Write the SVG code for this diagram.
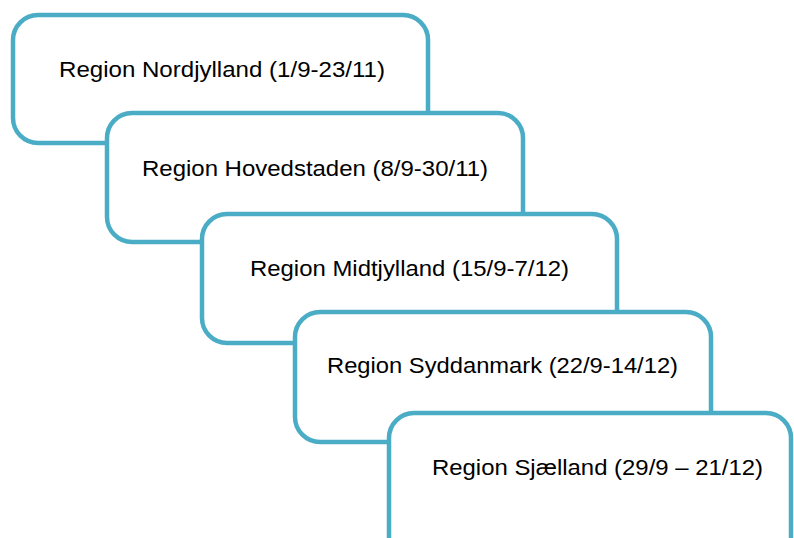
<svg xmlns="http://www.w3.org/2000/svg" width="794" height="538" viewBox="0 0 794 538">
<style>
.box{fill:#fff;stroke:#4BACC6;stroke-width:4.5}
.lbl{font-family:"Liberation Sans",Arial,sans-serif;font-size:22px;fill:#000}
</style>
<rect width="794" height="538" fill="#fff"/>
<g id="connectors"></g>
<g id="n1"><rect class="box" x="13" y="15" width="415" height="128" rx="25"/><text class="lbl" x="59" y="77" textLength="326" lengthAdjust="spacingAndGlyphs">Region Nordjylland (1/9-23/11)</text></g>
<g id="n2"><rect class="box" x="107" y="113" width="416" height="129" rx="25"/><text class="lbl" x="142" y="176" textLength="346" lengthAdjust="spacingAndGlyphs">Region Hovedstaden (8/9-30/11)</text></g>
<g id="n3"><rect class="box" x="202" y="214" width="415" height="129" rx="25"/><text class="lbl" x="250" y="276" textLength="319" lengthAdjust="spacingAndGlyphs">Region Midtjylland (15/9-7/12)</text></g>
<g id="n4"><rect class="box" x="295" y="312" width="416" height="130" rx="25"/><text class="lbl" x="327" y="373" textLength="351" lengthAdjust="spacingAndGlyphs">Region Syddanmark (22/9-14/12)</text></g>
<g id="n5"><rect class="box" x="389" y="413" width="402" height="150" rx="25"/><text class="lbl" x="432" y="475" textLength="331" lengthAdjust="spacingAndGlyphs">Region Sjælland (29/9 – 21/12)</text></g>
</svg>
